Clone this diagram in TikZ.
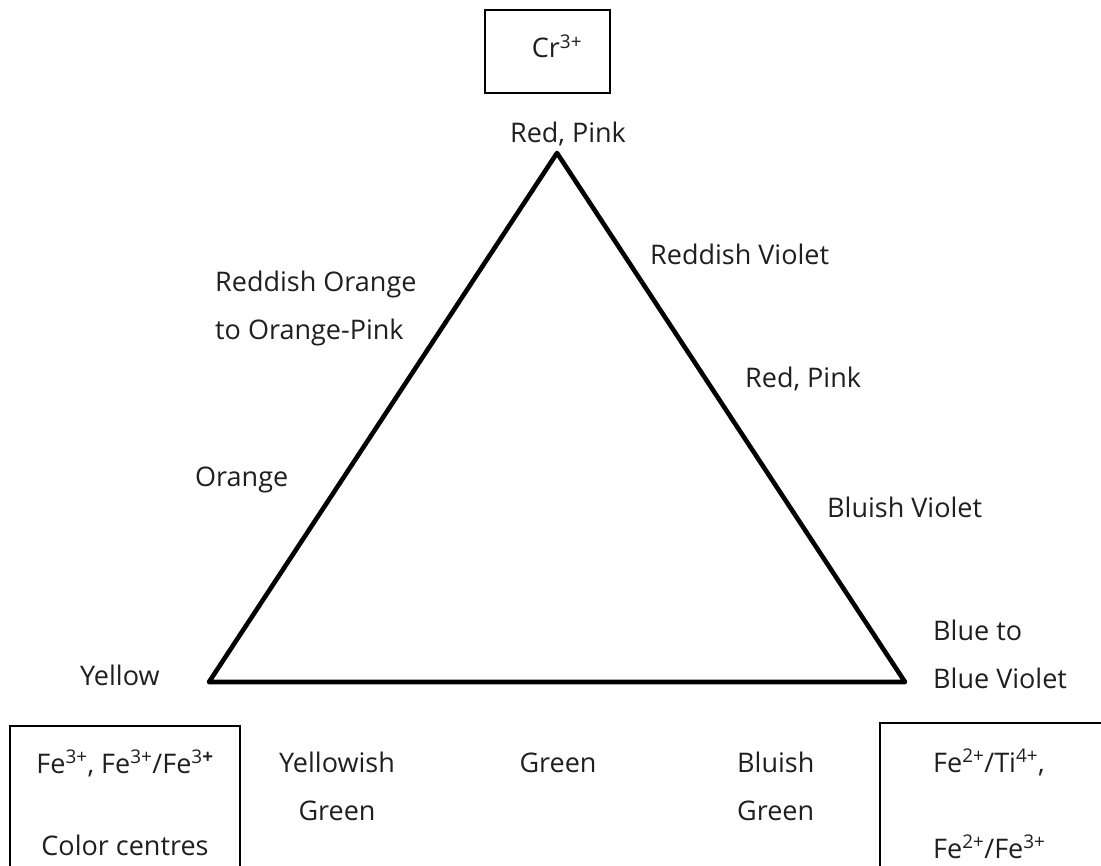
\documentclass[tikz,border=0pt]{standalone}
\usepackage{fontspec}
\setmainfont{Open Sans}
\begin{document}
\begin{tikzpicture}[x=1pt,y=-1pt,
  lbl/.style={font=\fontsize{27}{32}\selectfont, inner sep=0pt, text=black!88},
  boxed/.style={draw=black, line width=1.6pt, inner sep=0pt, fill=none},
  tri/.style={draw=black, line width=4.6pt, line join=round}]
\useasboundingbox (0,0) rectangle (1101,866);
\clip (0,0) rectangle (1101,866);
% boxes
\node[boxed, minimum width=125pt, minimum height=83pt] (crbox) at (547.5,51.5) {};
\node[boxed, minimum width=230pt, minimum height=200pt] (lbox) at (125,826) {};
\node[boxed, minimum width=240pt, minimum height=200pt] (rbox) at (1000,823) {};
% triangle
\coordinate (A) at (557,153);
\coordinate (B) at (209,682);
\coordinate (C) at (905,682);
\draw[tri] (A) -- (B) -- (C) -- cycle;
% labels
\node[lbl, anchor=base] (cr) at (557,58) {Cr\textsuperscript{3+}};
\node[lbl, anchor=base] (redtop) at (568,143) {Red, Pink};
\node[lbl, anchor=base west] (rviolet) at (650,265) {Reddish Violet};
\node[lbl, anchor=base west] (rorange1) at (215,292) {Reddish Orange};
\node[lbl, anchor=base west] (rorange2) at (215,340) {to Orange-Pink};
\node[lbl, anchor=base west] (rpink) at (745,388) {Red, Pink};
\node[lbl, anchor=base west] (orange) at (195,487) {Orange};
\node[lbl, anchor=base west] (bviolet) at (827,518) {Bluish Violet};
\node[lbl, anchor=base west] (blueto) at (933,640) {Blue to};
\node[lbl, anchor=base west] (bluev) at (933,688) {Blue Violet};
\node[lbl, anchor=base west] (yellow) at (80,685) {Yellow};
\node[lbl, anchor=base] (yg1) at (337,772) {Yellowish};
\node[lbl, anchor=base] (yg2) at (337,820) {Green};
\node[lbl, anchor=base] (green) at (558,772) {Green};
\node[lbl, anchor=base west] (bg1) at (737,772) {Bluish};
\node[lbl, anchor=base west] (bg2) at (737,820) {Green};
\node[lbl, anchor=base] (fe1) at (125,773) {Fe\textsuperscript{3+}, Fe\textsuperscript{3+}/Fe\textsuperscript{3\textbf{+}}};
\node[lbl, anchor=base] (cc) at (125,855) {Color centres};
\node[lbl, anchor=base west] (fe2) at (933,772) {Fe\textsuperscript{2+}/Ti\textsuperscript{4+},};
\node[lbl, anchor=base west] (fe3) at (933,858) {Fe\textsuperscript{2+}/Fe\textsuperscript{3+}};
\end{tikzpicture}
\end{document}
